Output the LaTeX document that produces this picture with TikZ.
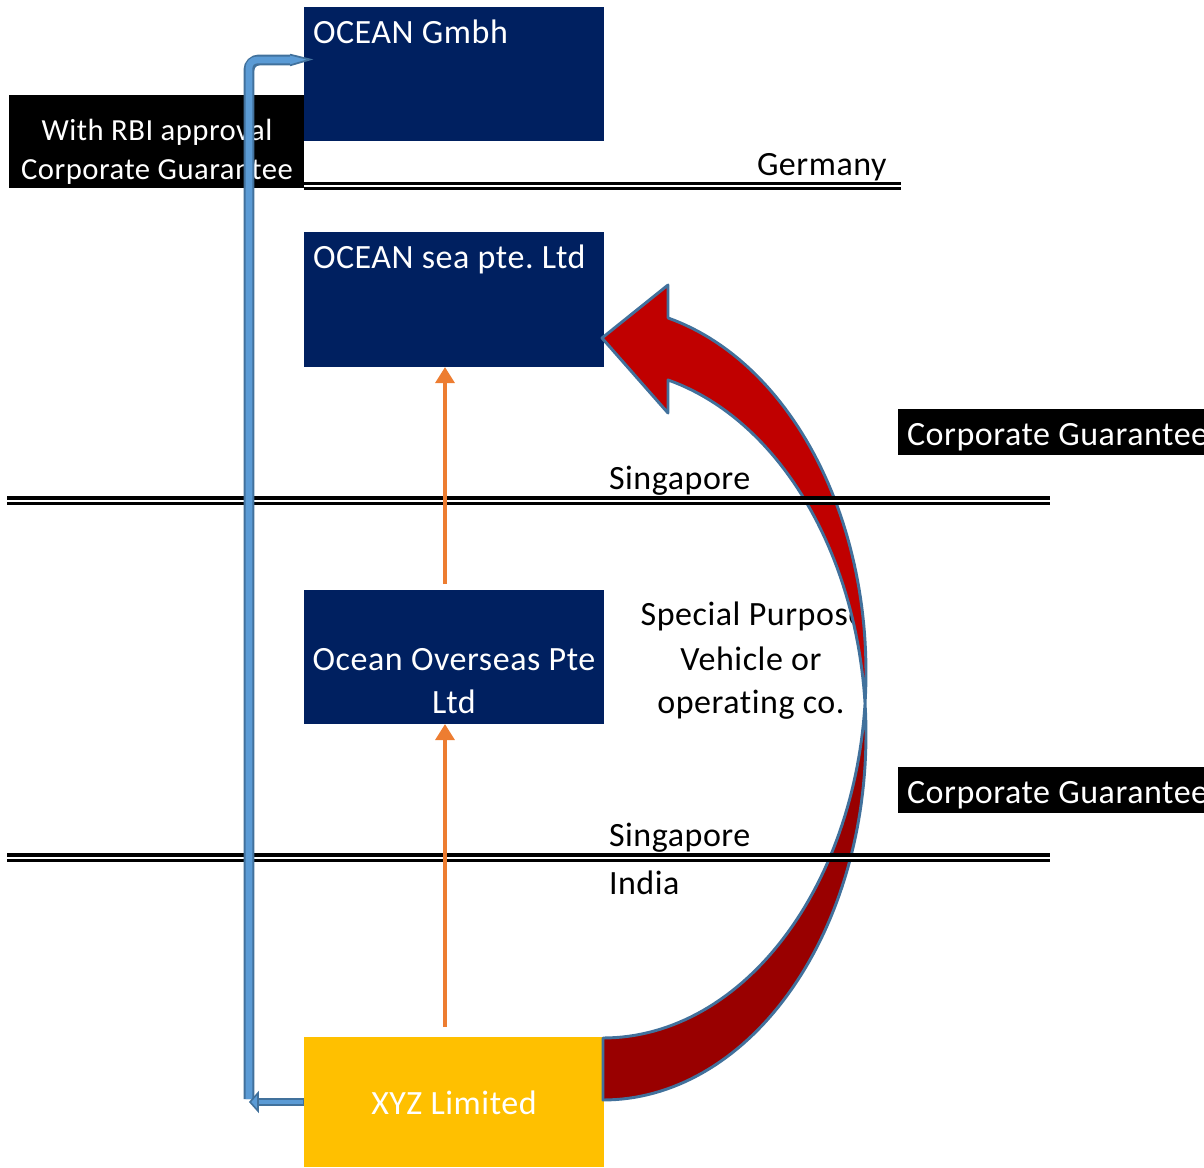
\documentclass[tikz,border=0pt]{standalone}
\usepackage{fontspec}
\setmainfont{Carlito}[LetterSpace=1.6, Ligatures=CommonOff]
\usetikzlibrary{arrows.meta}
\frenchspacing

\definecolor{navy}{HTML}{002060}
\definecolor{gold}{HTML}{FFC000}
\definecolor{feedorange}{HTML}{ED7D31}
\definecolor{linkfill}{HTML}{5B9BD5}
\definecolor{linkedge}{HTML}{41719C}
\definecolor{redfront}{HTML}{C00000}
\definecolor{redback}{HTML}{990000}

\tikzset{
  entity/.style={fill=navy, inner sep=0pt, outer sep=0pt, anchor=north west,
                 minimum width=225pt, minimum height=100.5pt},
  tagbox/.style={fill=black, inner sep=0pt, outer sep=0pt, anchor=north west},
  lbl/.style={inner sep=0pt, outer sep=0pt, font=\fontsize{25.5}{30}\selectfont},
  wlbl/.style={lbl, text=white},
  tagtxt/.style={inner sep=0pt, outer sep=0pt, text=white, font=\fontsize{23}{27}\selectfont},
  border/.style={draw=black, double=white, line width=2.3pt, double distance=1.5pt},
  feed/.style={draw=feedorange, line width=3.4pt,
               -{Triangle[length=12pt,width=14pt]}},
}

% unit = one pixel of a 1204 x 1168 canvas, y growing downwards
\begin{document}
\begin{tikzpicture}[x=0.75pt, y=-0.75pt]
\useasboundingbox (0,0) rectangle (1204,1168);
\begin{scope}
\clip (0,0) rectangle (1204,1168);

% ---- entity boxes
\node[entity] (gmbh) at (304,7) {};
\node[entity, minimum height=101.25pt] (sea) at (304,232) {};
\node[entity] (ovs) at (304,590) {};
\node[entity, fill=gold, minimum height=97.5pt] (xyz) at (304,1037) {};

\node[wlbl, anchor=base west] (gmbhtxt) at (313,43) {OCEAN Gmbh};
\node[wlbl, anchor=base west] (seatxt) at (313,268) {OCEAN sea pte. Ltd};
\node[wlbl, anchor=base] (ovstxta) at (454,670) {Ocean Overseas Pte};
\node[wlbl, anchor=base] (ovstxtb) at (454,713) {Ltd};
\node[wlbl, anchor=base] (xyztxt) at (454,1114) {XYZ Limited};

% ---- vehicle note (partly covered by the curved arrow)
\node[lbl, anchor=base] (spva) at (753,625) {Special Purpose};
\node[lbl, anchor=base] (spvb) at (751,670) {Vehicle or};
\node[lbl, anchor=base] (spvc) at (751,713) {operating co.};

% ---- curved guarantee arrow: front face, back face, outline
\fill[redfront] (602,338) -- (668,285) -- (668,318)
  -- plot[domain=-75.69:4.86, samples=60] ({603+263*cos(\x)},{672.3+365.7*sin(\x)})
  -- plot[domain=-4.86:-75.69, samples=60] ({603+263*cos(\x)},{734.3+365.7*sin(\x)})
  -- (668,413) -- cycle;
\fill[redback]
  plot[domain=4.86:90, samples=60] ({603+263*cos(\x)},{672.3+365.7*sin(\x)})
  -- (603,1100)
  -- plot[domain=90:-4.86, samples=60] ({603+263*cos(\x)},{734.3+365.7*sin(\x)})
  -- cycle;
\draw[linkedge, line width=2.2pt, line join=round] (602,338) -- (668,285) -- (668,318)
  -- plot[domain=-75.69:90, samples=120] ({603+263*cos(\x)},{672.3+365.7*sin(\x)})
  -- (603,1100)
  -- plot[domain=90:-75.69, samples=120] ({603+263*cos(\x)},{734.3+365.7*sin(\x)})
  -- (668,413) -- cycle;

% ---- jurisdiction borders
\coordinate (deL) at (304,186);  \coordinate (deR) at (901,186);
\coordinate (sgL) at (7,500.5);  \coordinate (sgR) at (1050,500.5);
\coordinate (inL) at (7,857.5);  \coordinate (inR) at (1050,857.5);
\draw[border] (deL) -- (deR);
\draw[border] (sgL) -- (sgR);
\draw[border] (inL) -- (inR);

\node[lbl, anchor=base west] (de) at (757,175) {Germany};
\node[lbl, anchor=base west] (sg1) at (609,489) {Singapore};
\node[lbl, anchor=base west] (sg2) at (609,846) {Singapore};
\node[lbl, anchor=base west] (in) at (609,894) {India};

% ---- guarantee tags
\node[tagbox, minimum width=221.25pt, minimum height=69.75pt] (rbi) at (9,95) {};
\node[tagtxt, anchor=base] (rbia) at (157,140) {With RBI approval};
\node[tagtxt, anchor=base] (rbib) at (157,179) {Corporate Guarantee};

\node[tagbox, minimum width=240pt, minimum height=34.5pt] (cg1) at (898,409) {};
\node[wlbl, anchor=base west] (cg1txt) at (907,445) {Corporate Guarantee};
\node[tagbox, minimum width=240pt, minimum height=34.5pt] (cg2) at (898,767) {};
\node[wlbl, anchor=base west] (cg2txt) at (907,803) {Corporate Guarantee};

% ---- shareholding arrows
\draw[feed, shorten <=4.5pt] ([xshift=-6.75pt]ovs.north) -- ([xshift=-6.75pt]sea.south);
\draw[feed, shorten <=7.5pt] ([xshift=-6.75pt]xyz.north) -- ([xshift=-6.75pt]ovs.south);

% ---- elbow link from XYZ Limited up to OCEAN Gmbh
\coordinate (lb) at (249,1099);
\coordinate (lt) at (249,60);
\coordinate (le) at (291,60);
\coordinate (lh) at (258,1102);
\draw[linkedge, line width=8.2pt, rounded corners=7.5pt] (lb) -- (lt) -- (le);
\draw[linkfill, line width=5pt, rounded corners=6pt] (lb) -- (lt) -- (le);
\filldraw[fill=linkfill, draw=linkedge, line width=1.3pt, line join=miter]
  (290,54.6) -- (310,59.5) -- (290,65.4);
\draw[linkedge, line width=6pt] (xyz.west) -- (lh);
\draw[linkfill, line width=3pt] ([xshift=-1pt]xyz.west) -- (lh);
\filldraw[fill=linkfill, draw=linkedge, line width=1.2pt, line join=miter]
  (258,1093) -- (250,1102) -- (258,1111) -- cycle;
\end{scope}
\end{tikzpicture}
\end{document}
